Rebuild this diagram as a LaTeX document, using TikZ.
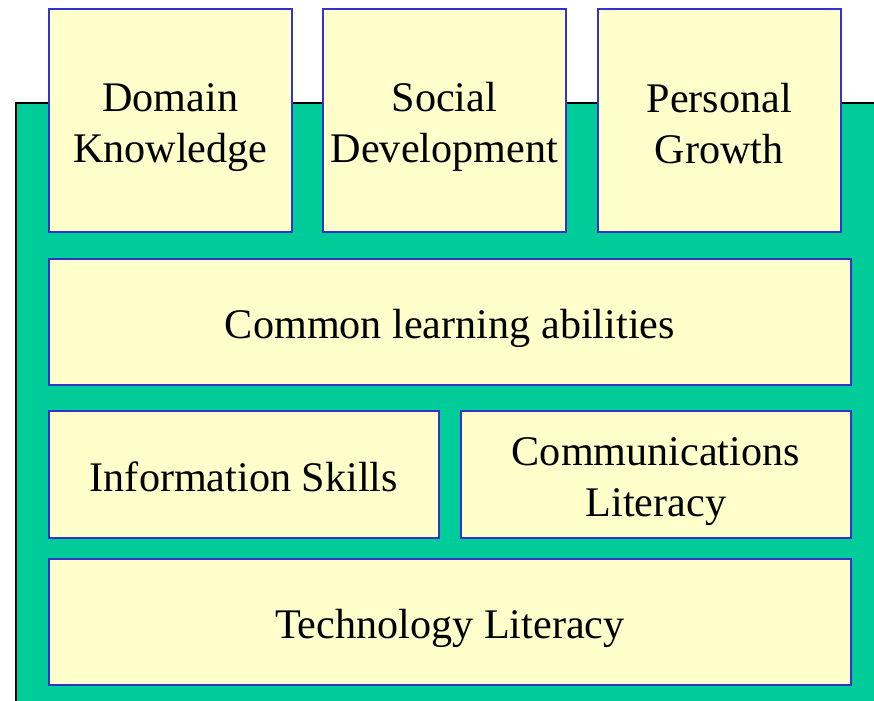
\documentclass[tikz,border=0pt]{standalone}
\usepackage{fontspec}
\setmainfont{Liberation Serif}
\usetikzlibrary{positioning}
\definecolor{panelgreen}{HTML}{00CC99}
\definecolor{boxyellow}{HTML}{FFFFCC}
\definecolor{boxblue}{HTML}{3333CC}
\tikzset{
    block/.style={draw=boxblue, fill=boxyellow, line width=0.5pt, align=center,
        anchor=north west, inner sep=0pt, font=\fontsize{12}{14.5}\selectfont,
        execute at begin node={\rule{0pt}{12pt}},
        execute at end node={\rule[-2pt]{0pt}{0pt}}},
}
% two lines of a box, same strut as one-line boxes
\newcommand{\twolines}[2]{\rule{0pt}{12pt}#1\\#2}

\begin{document}
\begin{tikzpicture}[y=-1cm]
    \useasboundingbox (0,0) rectangle (8.74,7.01);
    \clip (0,0) rectangle (8.74,7.01);
    % green base panel
    \fill[panelgreen] (0.16,1.03) rectangle (8.9,7.1);
    \draw[line width=0.4pt] (0.16,7.1) -- (0.16,1.03) -- (8.9,1.03);
    % top row
    \node[block, minimum width=2.43cm, minimum height=2.23cm] (domain) at (0.48,0.08) {\twolines{Domain}{Knowledge}};
    \node[block, minimum width=2.43cm, minimum height=2.23cm] (social) at (3.22,0.08) {\twolines{Social}{Development}};
    \node[block, minimum width=2.43cm, minimum height=2.23cm] (personal) at (5.97,0.08) {\twolines{Personal}{Growth}};
    % layers
    \node[block, minimum width=8.02cm, minimum height=1.26cm] (common) at (0.48,2.58) {Common learning abilities};
    \node[block, minimum width=3.90cm, minimum height=1.27cm] (info) at (0.48,4.10) {Information Skills};
    \node[block, minimum width=3.90cm, minimum height=1.27cm] (comm) at (4.60,4.10) {\twolines{Communications}{Literacy}};
    \node[block, minimum width=8.02cm, minimum height=1.26cm] (tech) at (0.48,5.58) {Technology Literacy};
\end{tikzpicture}
\end{document}
